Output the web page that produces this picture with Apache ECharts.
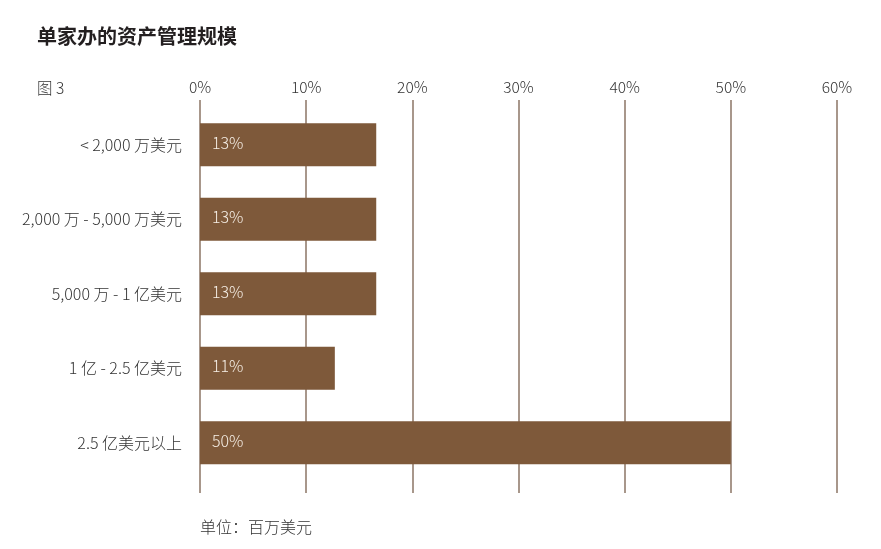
<!DOCTYPE html>
<html><head><meta charset="utf-8">
<script src="https://cdn.jsdelivr.net/npm/echarts@6/dist/echarts.min.js"></script>
<style>html,body{margin:0;padding:0;background:#fff}#c{width:881px;height:549px}</style>
</head><body><div id="c"></div>
<script>
const categories = ['< 2,000 万美元','2,000 万 - 5,000 万美元','5,000 万 - 1 亿美元','1 亿 - 2.5 亿美元','2.5 亿美元以上'];
const barLengths = [16.6, 16.6, 16.6, 12.7, 50];
const barLabels = ['13%','13%','13%','11%','50%'];
const xTicks = [0,10,20,30,40,50,60];

const FONT = '"Noto Sans CJK SC", "Noto Sans", sans-serif';
const chart = echarts.init(document.getElementById('c'), null, {renderer:'canvas'});
chart.setOption({
  animation:false,
  textStyle:{fontFamily:FONT},
  title:[
    {text:'单家办的资产管理规模', left:32, top:21, textStyle:{fontFamily:FONT,fontSize:20,fontWeight:'bold',color:'#231f20'}},
    {text:'图 3', left:32, top:75, textStyle:{fontFamily:FONT,fontSize:15.5,fontWeight:300,color:'#333'}},
    {text:'单位：百万美元', left:195, top:514, textStyle:{fontFamily:FONT,fontSize:16,fontWeight:300,color:'#333'}}
  ],
  grid:[
    {left:200, right:44, top:100, height:393},
    {left:200, right:44, top:107.5, height:372.5}
  ],
  xAxis:[
    {gridIndex:0, type:'value', position:'top', min:xTicks[0], max:xTicks[xTicks.length-1], interval:10,
     axisLine:{show:false}, axisTick:{show:false},
     axisLabel:{margin:5, fontSize:15.5, fontWeight:300, color:'#333', fontFamily:FONT, formatter:v=>v+'%'},
     splitLine:{show:true, lineStyle:{color:'#8b7565', width:1.5}}},
    {gridIndex:1, type:'value', min:xTicks[0], max:xTicks[xTicks.length-1], show:false}
  ],
  yAxis:[
    {gridIndex:0, type:'category', data:categories, show:false},
    {gridIndex:1, type:'category', data:categories, inverse:true,
     axisLine:{show:false}, axisTick:{show:false},
     axisLabel:{margin:18, fontSize:16, fontWeight:300, color:'#333', fontFamily:FONT}}
  ],
  series:[{
    type:'bar', xAxisIndex:1, yAxisIndex:1, data:barLengths, barWidth:43,
    itemStyle:{color:'#7e593a'},
    label:{show:true, position:'insideLeft', distance:12, offset:[0,-2], fontSize:16, fontWeight:300, color:'#f6efe6', fontFamily:FONT,
      formatter:p=>barLabels[p.dataIndex]}
  }]
});
</script></body></html>
